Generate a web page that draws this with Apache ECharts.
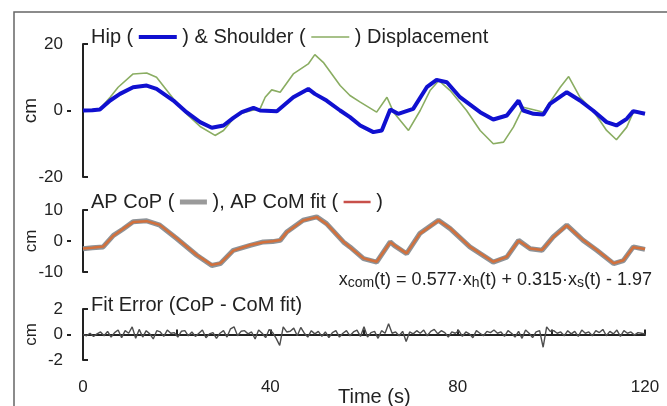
<!DOCTYPE html>
<html>
<head>
<meta charset="utf-8">
<script src="https://cdn.jsdelivr.net/npm/echarts@6/dist/echarts.min.js"></script>
<style>html,body{margin:0;padding:0;background:#fff}#c{width:667px;height:406px}</style>
</head>
<body>
<div id="c"></div>
<script>
// ---- data ----
const hipT  = [0,2,3.6,5.8,7.9,10.7,13.6,15.7,19.3,22.1,25,27.5,30,32.1,33.9,36.4,37.8,41.4,42.4,44.9,48.1,49.5,52,54.9,57,59.2,62,63.8,65.6,67.3,70.5,73.4,75.5,77.7,80.5,84.8,87.6,90.5,93,94,96.2,98.3,99.7,103.3,106.1,108.9,111.8,113.9,116.1,117.5,120];
const hipCm = [0,0.1,0.3,3,5,7,7.5,6.5,3,-0.5,-3.5,-5.2,-4.5,-2.2,-0.5,0.8,0,-0.2,1,4,6.5,5,3,0,-2,-4.5,-6.5,-6,0.3,-1,0.5,7,9.2,8.5,4,-0.5,-2.7,-1.5,3,0,-1,-1.2,2,5.5,3,0,-3.5,-4.5,-2.5,-0.2,-1];
const shoulderT  = [0,3.6,5.8,7.5,10.7,13.6,15.7,19.3,22.1,25,28.2,30,32.1,33.9,36,37.8,38.9,40.3,42.1,44.9,48.1,49.5,51.3,54.9,57,59.2,62.7,64.9,66.3,69.5,72,74.1,76,78.4,81.9,84.8,87.6,89.8,91.9,94,96.9,98.3,99.7,101.9,103.7,106.1,108.9,111.8,113.9,116.1,117.5,120];
const shoulderCm = [0,0.5,4,7,11,11.3,10,3.5,-1,-4.8,-7.5,-6,-2.5,-0.8,0,0.5,4,6.2,5.5,11,14,16.8,14.5,7.5,4.5,2.5,-0.5,4,-0.5,-6,0,6,9,6,0,-6,-10,-9.5,-5,1,0,-0.5,2.5,7,10.2,4,0,-6,-8.8,-5,-0.5,-1];
const copT  = [0,2,4.3,6.5,8.5,10.7,13.6,16.4,20,24.3,27.5,29.3,32.1,35.7,38.5,40.5,42.1,43.5,47,49.9,52,55.6,57,59.9,62.7,65.6,66.5,69.1,71.9,75.9,78.4,82.6,87.6,90.5,93,95.5,98,100.4,103.3,106.8,109.7,113.3,115.4,117.5,120];
const copCm = [-2.5,-2.2,-1.9,1.8,3.8,6.2,6.5,5.1,0.8,-4.6,-7.9,-7.3,-3,-1.4,-0.3,-0.2,0.2,2.9,6.7,7.8,5.6,-0.3,-1.9,-5.7,-6.8,-0.3,-1.5,-4.1,2.4,6.7,4,-1.9,-6.8,-5.2,0.2,-2.5,-3,1.3,5.1,0.2,-3,-7.3,-6.3,-1.9,-2.7];
const fitCm = [-2.4,-2.2,-1.8,1.7,3.9,6.1,6.4,5.2,0.9,-4.5,-7.7,-7.2,-3.1,-1.3,-0.4,-0.1,0.3,2.8,6.6,7.7,5.5,-0.2,-2,-5.6,-6.7,-0.4,-1.4,-4,2.3,6.6,4.1,-1.8,-6.7,-5.1,0.1,-2.4,-2.9,1.2,5,0.3,-2.9,-7.2,-6.2,-2,-2.6];
const errStep = 0.75;
const errCm = [
 0,-0.1,0.1,-0.15,0.05,0.2,-0.1,0.25,-0.2,0.15,
 0.35,-0.25,0.3,0.1,0.6,-0.3,0.4,-0.2,0.3,0.05,
 -0.35,0.3,0.2,-0.15,0.35,0.1,0.15,-0.2,0.25,0.3,
 -0.1,0.2,-0.15,0.1,0.35,-0.25,0.05,0.15,-0.3,0.1,
 0.3,-0.2,0.45,0.6,-0.1,0.25,0.3,0.05,0.2,-0.35,
 0.35,0.1,-0.25,0.4,0.15,-0.3,-0.85,0.6,0.2,0.25,
 0.5,-0.1,0.55,0.1,-0.2,0.3,0.05,0.25,-0.15,0.2,
 -0.25,0.15,0.3,-0.2,0.1,0.3,-0.1,0.2,0.35,-0.15,
 0.6,-0.2,0.15,0.25,-0.3,0.3,0.1,0.85,0.1,0.2,
 -0.1,0.25,-0.55,0.2,0.05,0.3,0.1,0.35,-0.1,0.25,
 0.4,0.05,0.3,0.15,-0.2,0.2,0.1,0.3,-0.15,0.2,
 0.05,-0.25,0.3,0.1,-0.1,0.25,0.15,0.35,0.1,0.2,
 -0.15,0.3,0.1,-0.2,0.25,-0.3,0.35,0.1,-0.25,0.2,
 0.3,-1.0,0.6,0.25,0.3,0.1,0.2,-0.1,0.3,0.05,
 0.25,-0.15,0.35,0.1,0.2,-0.1,0.3,0.15,0.4,-0.1,
 0.25,0.05,0.35,-0.15,0.3,0.1,0.2,-0.05,0.15,0.1,
 0.05];
const xTicks = [0,20,40,60,80,100,120];
const xLabels = ['0','','40','','80','','120'];
const yRanges = [20,10,2];

// ---- build ----
const pairs = (t, v) => t.map((x, i) => [x, v[i]]);
const errData = errCm.map((v, i) => [i * errStep, v]);
const FONT = 'Liberation Sans, Arial, sans-serif';
const TXT = '#222';
const BLUE = '#1010d0', GREEN = '#8aad62', GRAY = '#8d9297', FIT = '#d2703c', ERR = '#4d4d4d';

const grids = [
  {left: 83, right: 22, top: 44, height: 133},
  {left: 83, right: 22, top: 210, height: 62},
  {left: 83, right: 22, top: 309, height: 51}
];
const xAxes = grids.map((g, i) => ({
  type: 'value', gridIndex: i, min: 0, max: 120, interval: 20,
  show: i === 2, offset: 12,
  axisLine: {show: true, lineStyle: {color: TXT, width: 2}},
  axisTick: {show: true, inside: true, length: 5, lineStyle: {color: TXT, width: 2}},
  axisLabel: {fontFamily: FONT, fontSize: 17, color: TXT, margin: 7,
    formatter: v => xLabels[xTicks.indexOf(v)] ?? ''},
  splitLine: {show: false}
}));
const nameSizes = [19, 17, 17];
const yMain = yRanges.map((r, i) => ({
  type: 'value', gridIndex: i, min: -r, max: r, interval: r, position: 'left', offset: 12,
  name: 'cm', nameLocation: 'middle', nameGap: 31, nameRotate: 90, nameMoveOverlap: false,
  nameTextStyle: {fontFamily: FONT, fontSize: nameSizes[i], color: TXT},
  axisLine: {show: true, lineStyle: {color: TXT, width: 2}},
  axisTick: {show: true, inside: true, length: 5, customValues: [-r, r], lineStyle: {color: TXT, width: 2}},
  axisLabel: {fontFamily: FONT, fontSize: 17, color: TXT, margin: 8},
  splitLine: {show: false}
}));
const yAux = yRanges.map((r, i) => ({
  type: 'value', gridIndex: i, min: -r, max: r, interval: r, position: 'left', offset: 12,
  axisLine: {show: false},
  axisTick: {show: true, inside: false, length: 4, customValues: [0], lineStyle: {color: TXT, width: 2}},
  axisLabel: {show: false}, splitLine: {show: false}
}));

const sw = (w, h, c) => ({width: w, height: h, backgroundColor: c});
const option = {
  animation: false,
  backgroundColor: '#fff',
  grid: grids,
  xAxis: xAxes,
  yAxis: yMain.concat(yAux),
  title: [
    {left: 91, top: 27, padding: 0,
     text: 'Hip ( {b| } ) & Shoulder ( {g| } ) Displacement',
     textStyle: {fontFamily: FONT, fontSize: 20, fontWeight: 'normal', color: TXT,
       rich: {b: sw(38, 4, BLUE), g: sw(38, 1.5, GREEN)}}},
    {left: 91, top: 192, padding: 0,
     text: 'AP CoP ( {c| } ), AP CoM fit ( {f| } )',
     textStyle: {fontFamily: FONT, fontSize: 20, fontWeight: 'normal', color: TXT,
       rich: {c: sw(27, 5, '#9a9a9a'), f: sw(27, 2.5, '#c8504a')}}},
    {left: 91, top: 295, padding: 0,
     text: 'Fit Error (CoP - CoM fit)',
     textStyle: {fontFamily: FONT, fontSize: 20, fontWeight: 'normal', color: TXT}},
    {right: 15, top: 269, padding: 0,
     text: 'x{s|com}(t) = 0.577·x{s|h}(t) + 0.315·x{s|s}(t) - 1.97',
     textStyle: {fontFamily: FONT, fontSize: 18, fontWeight: 'normal', color: TXT, lineHeight: 22,
       rich: {s: {fontFamily: FONT, fontSize: 14, color: TXT, lineHeight: 14, padding: [7, 0, 0, 0]}}}}
  ],
  graphic: [
    {type: 'rect', shape: {x: 14, y: 12, width: 700, height: 500},
     style: {fill: 'none', stroke: '#666', lineWidth: 1.5}, silent: true},
    {type: 'text', x: 338, y: 387,
     style: {text: 'Time (s)', font: '20px ' + FONT, fill: TXT}}
  ],
  series: [
    {type: 'line', xAxisIndex: 0, yAxisIndex: 0, data: pairs(shoulderT, shoulderCm), showSymbol: false,
     lineStyle: {color: GREEN, width: 1.6}},
    {type: 'line', xAxisIndex: 0, yAxisIndex: 0, data: pairs(hipT, hipCm), showSymbol: false,
     lineStyle: {color: BLUE, width: 4}},
    {type: 'line', xAxisIndex: 1, yAxisIndex: 1, data: pairs(copT, copCm), showSymbol: false,
     lineStyle: {color: GRAY, width: 5}},
    {type: 'line', xAxisIndex: 1, yAxisIndex: 1, data: pairs(copT, fitCm), showSymbol: false,
     lineStyle: {color: FIT, width: 2.5}},
    {type: 'line', xAxisIndex: 2, yAxisIndex: 2, data: errData, showSymbol: false,
     lineStyle: {color: ERR, width: 1.4}}
  ]
};
echarts.init(document.getElementById('c'), null, {renderer: 'canvas'}).setOption(option);
</script>
</body>
</html>
